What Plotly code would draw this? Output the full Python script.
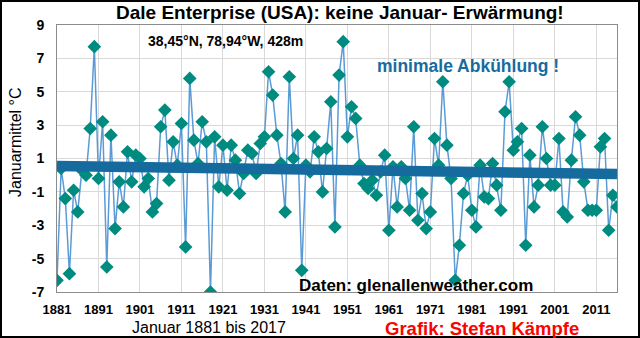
import numpy as np
import plotly.graph_objects as go

years = list(range(1881, 2017))
temps = [
    -6.3, 0.4, -1.4, -5.9, -0.9, -2.2, 0.3, 0.0, 2.8, 7.7,      # 1881-1890
    -0.2, 3.2, -5.5, 2.4, -3.2, -0.4, -1.9, 1.4, -0.4, 1.2,     # 1891-1900
    1.0, -0.7, -0.2, -2.2, -1.7, 2.9, 3.9, -0.3, 2.0, 0.6,      # 1901-1910
    3.1, -4.3, 5.8, 2.1, 0.7, 3.2, 2.0, -7.0, 2.3, -0.7,        # 1911-1920
    1.8, -0.9, 1.8, 0.9, -1.1, 0.1, 1.5, 1.3, 0.1, 1.9,         # 1921-1930
    2.3, 6.2, 4.8, 2.4, 0.7, -2.2, 5.9, 1.0, 2.4, -5.7,         # 1931-1940
    0.6, 0.2, 2.3, 1.4, -1.0, 1.6, 4.4, -3.1, 6.0, 8.0,         # 1941-1950
    2.3, 4.1, 3.4, 0.6, -0.5, -0.8, -0.3, -1.2, 0.2, 1.2,       # 1951-1960
    -3.3, 0.5, -1.9, 0.5, -0.2, -2.1, 2.9, -2.7, -1.1, -3.2,    # 1961-1970
    -2.2, 2.2, 0.6, 5.6, 1.8, -0.2, -6.3, -4.2, -1.1, 0.0,      # 1971-1980
    -2.1, -3.1, 0.6, -1.3, -1.4, 0.7, -0.6, -2.1, 3.8, 5.6,     # 1981-1990
    1.5, 2.0, 2.8, -4.2, 1.2, -1.9, -0.6, 2.9, 1.0, -0.6,       # 1991-2000
    -0.6, 2.2, -2.2, -2.5, 0.9, 3.5, 2.4, -0.4, -2.1, -2.1,     # 2001-2010
    -2.1, 1.7, 2.2, -3.3, -1.2, -1.9,                           # 2011-2016
]
x_ticks = list(range(1881, 2012, 10))
y_ticks = [-7, -5, -3, -1, 1, 3, 5, 7, 9]

slope, intercept = np.polyfit(years, temps, 1)
trend_x = [years[0], years[-1]]
trend_y = [slope * v + intercept for v in trend_x]

W, H = 640, 338
L, R, T, B = 57, 23, 25, 46
pw, ph = W - L - R, H - T - B

def px(x):
    return (x - L) / pw

def py(y):
    return 1 - (y - T) / ph

FONT = "Liberation Sans, Arial, sans-serif"

fig = go.Figure()
fig.add_trace(go.Scatter(
    x=years, y=temps, mode="lines+markers",
    line=dict(color="#5B9BD5", width=1.5),
    marker=dict(symbol="diamond", size=10.5, color="#008B80"),
    showlegend=False,
))
fig.add_trace(go.Scatter(
    x=trend_x, y=trend_y, mode="lines",
    line=dict(color="#156A9E", width=10.5),
    showlegend=False,
))

fig.update_layout(
    width=W, height=H,
    margin=dict(l=L, r=R, t=T, b=B),
    paper_bgcolor="white", plot_bgcolor="white",
    font=dict(family=FONT, color="black"),
    xaxis=dict(
        range=[1881, 2016], tickvals=x_ticks, ticktext=[str(v) for v in x_ticks],
        showgrid=True, gridcolor="#D9D9D9", gridwidth=1,
        showline=True, linecolor="#8C8C8C", linewidth=1, mirror=True,
        zeroline=False, ticks="", tickfont=dict(size=13, weight="bold"),
        ticklabelstandoff=5,
    ),
    yaxis=dict(
        range=[-7, 9], tickvals=y_ticks, ticktext=[str(v) for v in y_ticks],
        showgrid=True, gridcolor="#D9D9D9", gridwidth=1,
        showline=True, linecolor="#8C8C8C", linewidth=1, mirror=True,
        zeroline=False, ticks="", tickfont=dict(size=14, weight="bold"),
        ticklabelstandoff=9,
    ),
    shapes=[dict(
        type="rect", xref="paper", yref="paper",
        x0=px(1), x1=px(W - 1), y0=py(H - 1), y1=py(1),
        line=dict(color="black", width=2), fillcolor="rgba(0,0,0,0)",
        layer="above",
    )],
)

def ann(text, x, y, size, color="black", bold=False, angle=0, xanchor="center"):
    fig.add_annotation(
        text=text, x=px(x), y=py(y), xref="paper", yref="paper",
        showarrow=False, xanchor=xanchor, yanchor="middle", textangle=angle,
        font=dict(family=FONT, size=size, color=color,
                  weight="bold" if bold else "normal"),
    )

ann("Dale Enterprise (USA): keine Januar- Erwärmung!", 340, 13, 19, bold=True)
ann("38,45°N, 78,94°W, 428m", 225, 41, 14, bold=True)
ann("minimale Abkühlung !", 468, 66, 17.5, color="#176BA0", bold=True)
ann("Daten: glenallenweather.com", 416, 285, 17, bold=True)
ann("Januar 1881 bis 2017", 209, 327, 16)
ann("Grafik: Stefan Kämpfe", 482, 328, 18.5, color="#FF0000", bold=True)
ann("Januarmittel °C", 15, 142, 16, angle=-90)

fig.write_html("out.html")
